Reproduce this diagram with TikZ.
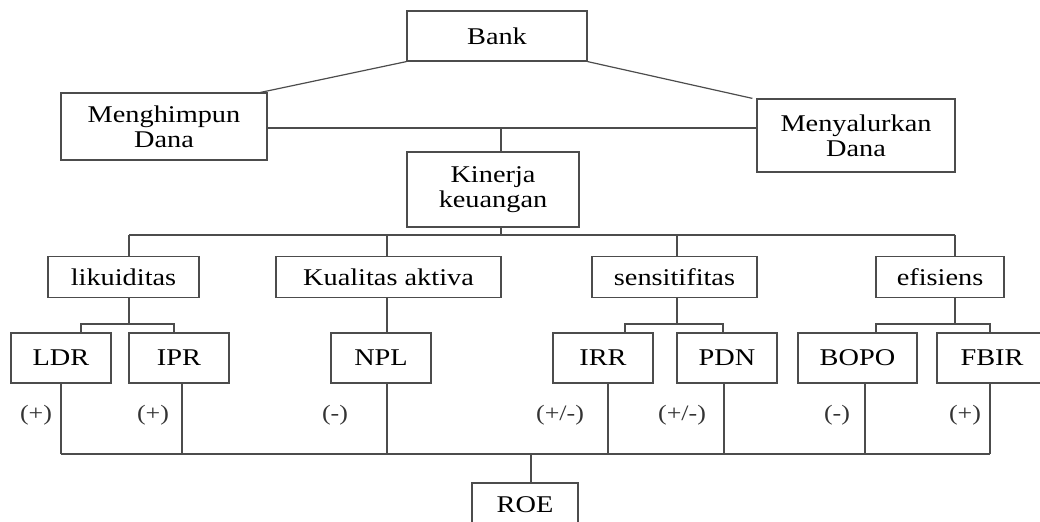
\documentclass[tikz,border=0pt]{standalone}
\usepackage{fontspec}
\setmainfont{Liberation Serif}[FakeStretch=1.18]
\begin{document}
\begin{tikzpicture}[x=0.5pt, y=-0.5pt,
			box/.style={draw=black!70, line width=.6pt, inner sep=0pt, align=center,
				font=\fontsize{12}{12.5}\selectfont},
			lnk/.style={draw=black!70, line width=.6pt},
			sign/.style={inner sep=1pt, text=black!80, font=\fontsize{11}{11}\selectfont}]
	\useasboundingbox (0,0) rectangle (1040,522);
	\clip (0,0) rectangle (1040,522);
	% top levels
	\node[box, minimum width=90pt, minimum height=25pt] (bank) at (497,36) {Bank};
	\node[box, minimum width=103pt, minimum height=33.5pt] (hd) at (164,126.5) {Menghimpun\\Dana};
	\node[box, minimum width=99pt, minimum height=36.5pt] (sd) at (856,135.5) {Menyalurkan\\Dana};
	\node[box, minimum width=86pt, minimum height=37.5pt] (kk) at (493,189.5) {Kinerja\\keuangan};
	% aspects
	\node[box, minimum width=75.5pt, minimum height=20.5pt] (lik) at (123.5,277) {likuiditas};
	\node[box, minimum width=112.5pt, minimum height=20.5pt] (ka) at (388.5,277) {Kualitas aktiva};
	\node[box, minimum width=82.5pt, minimum height=20.5pt] (sen) at (674.5,277) {sensitifitas};
	\node[box, minimum width=64pt, minimum height=20.5pt] (efi) at (940,277) {efisiens};
	% ratios
	\node[box, minimum width=50pt, minimum height=25pt] (ldr) at (61,358) {LDR};
	\node[box, minimum width=50pt, minimum height=25pt] (ipr) at (179,358) {IPR};
	\node[box, minimum width=50pt, minimum height=25pt] (npl) at (381,358) {NPL};
	\node[box, minimum width=50pt, minimum height=25pt] (irr) at (603,358) {IRR};
	\node[box, minimum width=50pt, minimum height=25pt] (pdn) at (727,358) {PDN};
	\node[box, minimum width=59.5pt, minimum height=25pt] (bopo) at (857.5,358) {BOPO};
	\node[box, minimum width=55pt, minimum height=25pt] (fbir) at (992,358) {FBIR};
	\node[box, minimum width=53pt, minimum height=22pt] (roe) at (525,505) {ROE};
	% connectors
	\draw[lnk] (bank.south west) -- ([xshift=-3.5pt]hd.north east);
	\draw[lnk] (bank.south east) -- ([xshift=-2pt]sd.north west);
	\coordinate (j1) at (501,128);
	\coordinate (j2) at (501,235);
	\draw[lnk] (hd.east |- j1) -- (sd.west |- j1);
	\draw[lnk] (j1) -- (j1 |- kk.north);
	\draw[lnk] (j1 |- kk.south) -- (j2);
	\foreach \n/\x in {lik/129, ka/387, sen/677, efi/955}{
		\coordinate (t\n) at (\x,235);
		\draw[lnk] (t\n) -- (t\n |- \n.north);
	}
	\draw[lnk] (tlik) -- (tefi);
	\foreach \p/\x/\a/\xa/\b/\xb in {lik/129/ldr/81/ipr/174, sen/677/irr/625/pdn/723, efi/955/bopo/876/fbir/990}{
		\coordinate (b\p) at (\x,324);
		\coordinate (b\a) at (\xa,324);
		\coordinate (b\b) at (\xb,324);
		\draw[lnk] (b\p |- \p.south) -- (b\p);
		\draw[lnk] (b\a |- \a.north) -- (b\a) -- (b\b) -- (b\b |- \b.north);
	}
	\draw[lnk] (tka |- ka.south) -- (tka |- npl.north);
	% to ROE
	\coordinate (r) at (531,454);
	\foreach \n/\x in {ldr/61, ipr/182, npl/387, irr/608, pdn/724, bopo/865, fbir/990}{
		\coordinate (d\n) at (\x,454);
		\draw[lnk] (d\n |- \n.south) -- (d\n);
	}
	\draw[lnk] (dldr) -- (dfbir);
	\draw[lnk] (r) -- (r |- roe.north);
	\foreach \n/\x/\t in {1/36/{(+)}, 2/153/{(+)}, 3/335/{(-)}, 4/560/{(+/-)}, 5/682/{(+/-)}, 6/837/{(-)}, 7/965/{(+)}}
		\node[sign] (s\n) at (\x,415) {\t};
\end{tikzpicture}
\end{document}
